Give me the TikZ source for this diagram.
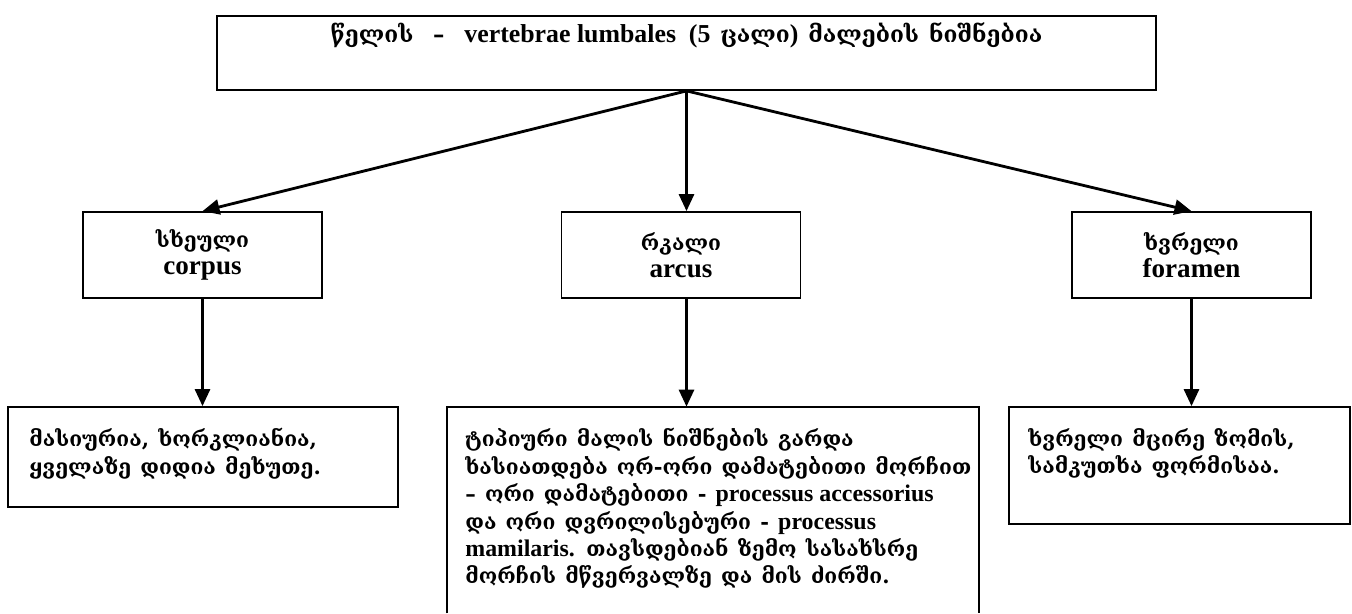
\documentclass[tikz,border=0pt]{standalone}
\usepackage{fontspec}
\setmainfont{DejaVu Serif}[Scale=0.88,WordSpace=1.25]
\newfontfamily\lat{Liberation Serif}
\newcommand\latbig{\lat\fontsize{15.4}{17}\selectfont}
\usetikzlibrary{arrows.meta}

\begin{document}
\begin{tikzpicture}[
  box/.style={draw=black,line width=1pt,inner sep=0pt},
  part/.style={box,minimum width=4.78cm,minimum height=1.72cm,align=center},
  flow/.style={draw=black,line width=1.6pt,-{Triangle[length=0.34cm,width=0.3cm]}},
  every node/.style={font=\fontsize{13.6}{15.6}\selectfont\bfseries},
  info/.style={anchor=north west,align=left,inner sep=0pt}
]
  \useasboundingbox (0,0) rectangle (27.04,-12.26);

  % heading
  \node[box,minimum width=18.78cm,minimum height=1.48cm] (lumbar) at (13.73,-1.06) {};
  \node[anchor=base,font=\fontsize{14.7}{17}\selectfont\bfseries] (title) at (13.73,-0.84)
    {წელის \ – \ {\lat vertebrae lumbales \ (5} ცალი{\lat )} მალების ნიშნებია};

  % three parts
  \node[part] (corpus) at (4.05,-5.10) {სხეული\\{\latbig corpus}};
  \node[part] (arcus) at (13.62,-5.10) {რკალი\\{\latbig arcus}};
  \node[part] (foramen) at (23.83,-5.10) {ხვრელი\\{\latbig foramen}};

  % descriptions
  \node[box,minimum width=7.8cm,minimum height=2cm] (bodyinfo) at (4.06,-9.14) {};
  \node[inner sep=0pt,minimum width=10.64cm,minimum height=4.12cm] (archinfo) at (14.26,-10.20) {};
  \draw[line width=1pt] (archinfo.south west) -- (archinfo.north west) -- (archinfo.north east) -- (archinfo.south east);
  \node[box,minimum width=6.82cm,minimum height=2.34cm] (holeinfo) at (23.59,-9.31) {};

  \node[info] (bodytext) at (0.58,-8.56)
    {მასიურია, ხორკლიანია,\\ყველაზე დიდია მეხუთე.};
  \node[info] (archtext) at (9.3,-8.56)
    {ტიპიური მალის ნიშნების გარდა\\
     ხასიათდება ორ-ორი დამატებითი მორჩით\\
     – ორი დამატებითი - {\lat processus accessorius}\\
     და ორი დვრილისებური - {\lat processus}\\
     {\lat mamilaris.} თავსდებიან ზემო სასახსრე\\
     მორჩის მწვერვალზე და მის ძირში.};
  \node[info] (holetext) at (20.56,-8.56)
    {ხვრელი მცირე ზომის,\\სამკუთხა ფორმისაა.};

  \draw[flow] (lumbar.south) -- (corpus.north);
  \draw[flow] (lumbar.south) -- (lumbar.south |- arcus.north);
  \draw[flow] (lumbar.south) -- (foramen.north);

  \draw[flow] (corpus.south) -- (corpus.south |- bodyinfo.north);
  \draw[flow] (lumbar.south |- arcus.south) -- (lumbar.south |- archinfo.north);
  \draw[flow] (foramen.south) -- (foramen.south |- holeinfo.north);
\end{tikzpicture}
\end{document}
